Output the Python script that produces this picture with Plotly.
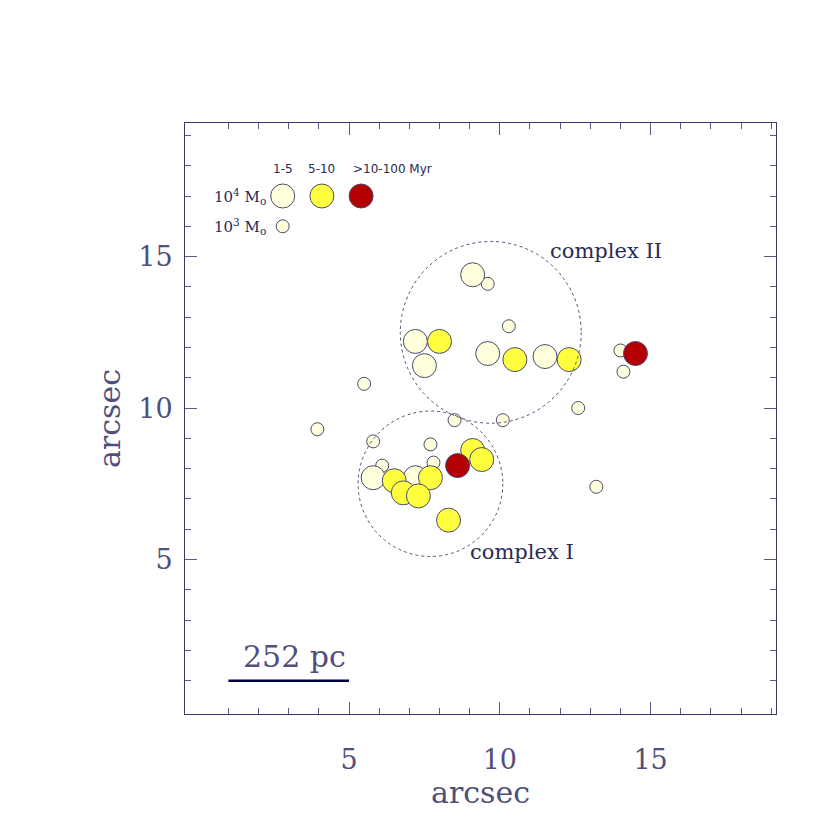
import plotly.graph_objects as go

# cluster positions (arcsec), mass class (4 -> 1e4 Msun, 3 -> 1e3 Msun), age class
x_pos = [3.95, 5.5, 5.8, 6.1, 7.7, 7.8, 8.5, 10.1, 9.6, 10.3, 12.6, 13.2, 14.0, 14.1,
         9.1, 7.2, 7.5, 9.6, 11.5, 5.8, 7.2,
         8.0, 10.5, 12.3, 6.5, 6.8, 7.7, 7.3, 9.1, 9.4, 8.3,
         8.6, 14.5]
y_pos = [9.3, 10.8, 8.9, 8.1, 8.8, 8.2, 9.6, 9.6, 14.1, 12.7, 10.0, 7.4, 11.9, 11.2,
         14.4, 12.2, 11.4, 11.8, 11.7, 7.7, 7.7,
         12.2, 11.6, 11.6, 7.6, 7.2, 7.7, 7.1, 8.6, 8.3, 6.3,
         8.1, 11.8]
mass = [3, 3, 3, 3, 3, 3, 3, 3, 3, 3, 3, 3, 3, 3,
        4, 4, 4, 4, 4, 4, 4,
        4, 4, 4, 4, 4, 4, 4, 4, 4, 4,
        4, 4]
age = ['1-5'] * 21 + ['5-10'] * 10 + ['>10-100'] * 2

# legend symbols
leg_x = [2.8, 4.1, 5.4, 2.8]
leg_y = [17.0, 17.0, 17.0, 16.0]
leg_mass = [4, 4, 4, 3]
leg_age = ['1-5', '5-10', '>10-100', '1-5']

# complexes: centre x, centre y, radius
complexes = {'complex I': (7.7, 7.5, 2.4), 'complex II': (9.7, 12.5, 3.0)}

colors = {'1-5': '#ffffdc', '5-10': '#ffff40', '>10-100': '#b40000'}
sizes = {4: 24, 3: 13}
edge = '#4a4a70'
ink = '#2a2a55'
grey_ink = '#50507a'
serif = 'DejaVu Serif'

fig = go.Figure()
fig.add_trace(go.Scatter(
    x=x_pos, y=y_pos, mode='markers', hoverinfo='skip',
    marker=dict(size=[sizes[m] for m in mass], color=[colors[a] for a in age],
                line=dict(color=edge, width=1), opacity=1)))
fig.add_trace(go.Scatter(
    x=leg_x, y=leg_y, mode='markers', hoverinfo='skip',
    marker=dict(size=[sizes[m] for m in leg_mass], color=[colors[a] for a in leg_age],
                line=dict(color=edge, width=1), opacity=1)))

for name, (cx, cy, r) in complexes.items():
    fig.add_shape(type='circle', x0=cx - r, x1=cx + r, y0=cy - r, y1=cy + r,
                  line=dict(color='#50507a', width=1, dash='dot'), layer='above')

fig.add_annotation(x=11.6, y=15.2, text='complex II', showarrow=False, xanchor='left',
                   font=dict(family=serif, size=21, color=ink))
fig.add_annotation(x=8.95, y=5.25, text='complex I', showarrow=False, xanchor='left',
                   font=dict(family=serif, size=21, color=ink))

# legend text
fig.add_annotation(x=2.8, y=17.9, text='1-5', showarrow=False,
                   font=dict(family='DejaVu Sans', size=12, color=ink))
fig.add_annotation(x=4.1, y=17.9, text='5-10', showarrow=False,
                   font=dict(family='DejaVu Sans', size=12, color=ink))
fig.add_annotation(x=5.05, y=17.9, text='>10-100 Myr', showarrow=False, xanchor='left',
                   font=dict(family='DejaVu Sans', size=12, color=ink))
fig.add_annotation(x=2.3, y=17.0, text='10<sup>4</sup> M<sub>o</sub>', showarrow=False,
                   xanchor='right', font=dict(family=serif, size=15, color=ink))
fig.add_annotation(x=2.3, y=16.0, text='10<sup>3</sup> M<sub>o</sub>', showarrow=False,
                   xanchor='right', font=dict(family=serif, size=15, color=ink))

# scale bar
fig.add_shape(type='line', x0=1, x1=5, y0=1.0, y1=1.0, line=dict(color='#000040', width=2.5))
fig.add_annotation(x=3.2, y=1.8, text='252 pc', showarrow=False,
                   font=dict(family=serif, size=30, color=grey_ink))

minor_vals = [v for v in range(1, 20) if v % 5 != 0]
axis_common = dict(
    showgrid=False, zeroline=False, showline=True, linecolor='#3a3a6a', linewidth=1,
    mirror='ticks', ticks='inside', ticklen=12, tickcolor='#5a5a80', tickwidth=1,
    tickvals=[5, 10, 15], automargin=False,
    tickfont=dict(family=serif, size=27, color=grey_ink),
    minor=dict(tickvals=minor_vals, ticks='inside', ticklen=6, tickcolor='#5a5a80'),
)
fig.update_xaxes(range=[-0.44, 19.16], ticklabelstandoff=22,
                 title=dict(text='arcsec', standoff=6,
                            font=dict(family=serif, size=30, color=grey_ink)),
                 **axis_common)
fig.update_yaxes(range=[-0.1, 19.41], ticklabelstandoff=6,
                 title=dict(text='arcsec', standoff=8,
                            font=dict(family=serif, size=30, color=grey_ink)),
                 **axis_common)
fig.update_layout(width=830, height=830, showlegend=False,
                  plot_bgcolor='white', paper_bgcolor='white',
                  margin=dict(l=177, r=62, t=115, b=124))

fig.write_html("out.html")
